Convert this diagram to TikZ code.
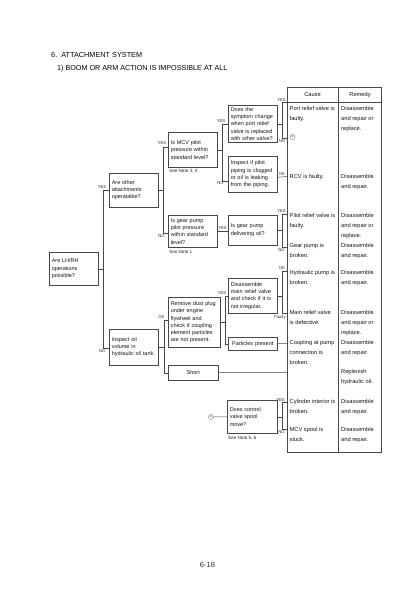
\documentclass[tikz,border=0pt]{standalone}
\usepackage{fontspec}
\setmainfont{Liberation Sans}
\begin{document}
\begin{tikzpicture}[x=1pt,y=-1pt,
  ln/.style={draw=black!72, line width=0.5pt},
  box/.style={draw=black!72, line width=0.5pt, anchor=north west, align=left,
    inner xsep=2.5pt, inner ysep=0pt, text width=44pt,
    font=\fontsize{5.5}{7.3}\selectfont, text=black!92},
  lbl/.style={inner sep=0.4pt, font=\fontsize{4.2}{4.2}\selectfont, text=black!85},
  note/.style={anchor=north west, inner sep=0pt, font=\fontsize{4.6}{5}\selectfont, text=black!85},
  cell/.style={anchor=north west, inner sep=0pt, align=left,
    font=\fontsize{5.7}{9.8}\selectfont, text=black!92},
  circ/.style={circle, draw=black!55, line width=0.4pt, inner sep=0pt, minimum size=5pt,
    font=\fontsize{3.6}{3.6}\selectfont, text=black!60}
]
\useasboundingbox (0,0) rectangle (416,589);

% titles
\node[anchor=base west, inner sep=0pt, font=\fontsize{7.3}{8}\selectfont] (t1) at (51,57.3) {6.\ \ ATTACHMENT SYSTEM};
\node[anchor=base west, inner sep=0pt, font=\fontsize{7.2}{8}\selectfont] (t2) at (57,70.7) {1) BOOM OR ARM ACTION IS IMPOSSIBLE AT ALL};

% table
\draw[ln] (287,87) rectangle (381,452);
\draw[ln] (287,102) -- (381,102);
\draw[ln] (338.5,87) -- (338.5,452);
\node[inner sep=0pt, font=\fontsize{5.7}{6}\selectfont, text=black!92] (hc) at (312.5,95) {Cause};
\node[inner sep=0pt, font=\fontsize{5.7}{6}\selectfont, text=black!92] (hr) at (360,95) {Remedy};

% table cells (cause / remedy)
\node[cell] (c1) at (289.5,106.5) {Port relief valve is\\faulty.};
\node[cell] (m1) at (341,106.5) {Disassemble\\and repair or\\replace.};
\node[circ] (ca1) at (292.5,137) {a};
\node[cell] (c2) at (289.5,174.5) {RCV is faulty.};
\node[cell] (m2) at (341,174.5) {Disassemble\\and repair.};
\node[cell] (c3) at (289.5,213.5) {Pilot relief valve is\\faulty.};
\node[cell] (m3) at (341,213.5) {Disassemble\\and repair or\\replace.};
\node[cell] (c4) at (289.5,243.5) {Gear pump is\\broken.};
\node[cell] (m4) at (341,243.5) {Disassemble\\and repair.};
\node[cell] (c5) at (289.5,270.5) {Hydraulic pump is\\broken.};
\node[cell] (m5) at (341,270.5) {Disassemble\\and repair.};
\node[cell] (c6) at (289.5,310.5) {Main relief valve\\is defective.};
\node[cell] (m6) at (341,310.5) {Disassemble\\and repair or\\replace.};
\node[cell] (c7) at (289.5,340.5) {Coupling at pump\\connection is\\broken.};
\node[cell] (m7) at (341,340.5) {Disassemble\\and repair.};
\node[cell] (m8) at (341,369.5) {Replenish\\hydraulic oil.};
\node[cell] (c9) at (289.5,399.5) {Cylinder interior is\\broken.};
\node[cell] (m9) at (341,399.5) {Disassemble\\and repair.};
\node[cell] (c10) at (289.5,427.5) {MCV spool is\\stuck.};
\node[cell] (m10) at (341,427.5) {Disassemble\\and repair.};

% row entry points on the table's left edge
\coordinate (r1) at (287,102.5);
\coordinate (ra) at (287,138.5);
\coordinate (r2) at (287,176.5);
\coordinate (r3) at (287,214);
\coordinate (r4) at (287,247.5);
\coordinate (r5) at (287,271);
\coordinate (r6) at (287,313);
\coordinate (r7) at (287,343.5);
\coordinate (r8) at (287,372.5);
\coordinate (r9) at (287,402.5);
\coordinate (r10) at (287,429.5);

% boxes
\node[box, minimum height=33pt] (A) at (49,252) {Are LH/RH\\operations\\possible?};
\node[box, minimum height=34pt] (B) at (109,173) {Are other\\attachments\\operatable?};
\node[box, minimum height=36pt] (C) at (109,329) {Inspect oil\\volume in\\hydraulic oil tank.};
\node[box, minimum height=35pt] (D) at (168,132) {Is MCV pilot\\pressure within\\standard level?};
\node[box, minimum height=32pt] (E) at (168,215) {Is gear pump\\pilot pressure\\within standard\\level?};
\node[box, minimum height=37pt] (K) at (228,105) {Does the\\symptom change\\when port relief\\valve is replaced\\with other valve?};
\node[box, minimum height=36pt] (L) at (228,156) {Inspect if pilot\\piping is clogged\\or oil is leaking\\from the piping.};
\node[box, minimum height=30pt] (F) at (228,215) {Is gear pump\\delivering oil?};
\node[box, minimum height=35pt] (G) at (228,278) {Disassemble\\main relief valve\\and check if it is\\not irregular.};
\node[box, minimum height=50pt, text width=47pt] (H) at (168,297) {Remove dust plug\\under engine\\flywheel and\\check if coupling\\element particles\\are not present.};
\node[box, minimum height=13pt, align=center] (I) at (228,337) {Particles present};
\node[box, minimum height=15pt, text width=45pt, align=center] (S) at (168,365) {Short};
\node[box, minimum height=33pt, text width=45pt] (J) at (227,400) {Does control\\valve spool\\move?};

% notes
\node[note] (n1) at (169,169.5) {See Note 3, 4};
\node[note] (n2) at (169,250) {See Note 1};
\node[note] (n3) at (228,436) {See Note 5, 6};

% connectors: A
\draw[ln] (A.east) -- ++(5,0) coordinate (av);
\draw[ln] (av) |- (B.west);
\draw[ln] (av) |- ([yshift=-1pt]C.west);
\node[lbl, anchor=south] (la1) at (102,189.5) {YES};
\node[lbl, anchor=north] (la2) at (102,348.5) {NO};

% B
\draw[ln] (B.east) -- ++(5,0) coordinate (bv);
\draw[ln] (bv) |- ([yshift=3pt]D.west);
\draw[ln] (bv) |- ([yshift=-2pt]E.west);
\node[lbl, anchor=south] (lb1) at (162,145.5) {YES};
\node[lbl, anchor=north] (lb2) at (161.5,233.5) {NO};

% D
\draw[ln] (D.east) -- ++(5,0) coordinate (dv);
\draw[ln] (dv) |- (K.west);
\draw[ln] (dv) |- ([yshift=-6.5pt]L.west);
\node[lbl, anchor=south] (ld1) at (221,123) {YES};
\node[lbl, anchor=north] (ld2) at (220.5,180.5) {NO};

% K
\draw[ln] (K.east) -- ++(5,0) coordinate (kv);
\draw[ln] (kv) |- (r1);
\draw[ln] (kv) |- (ra);
\node[lbl, anchor=south] (lk1) at (281.5,102) {YES};
\node[lbl, anchor=north] (lk2) at (282,139) {NO};

% L
\draw[ln] ([yshift=-3pt]L.east) -- (r2);
\node[lbl, anchor=south] (ll1) at (282,176) {OK};

% E -> F
\draw[ln] (E.east) -- (E.east -| F.west);
\node[lbl, anchor=south] (le1) at (222.5,230.5) {YES};

% F
\draw[ln] (F.east) -- ++(5,0) coordinate (fv);
\draw[ln] (fv) |- (r3);
\draw[ln] (fv) |- (r4);
\node[lbl, anchor=south] (lf1) at (281.5,213.5) {YES};
\node[lbl, anchor=north] (lf2) at (281.5,248) {NO};

% C
\draw[ln] (C.east) -- ++(6,0) coordinate (cv);
\draw[ln] (cv) |- ([yshift=2pt]H.west);
\draw[ln] (cv) |- (S.west);
\node[lbl, anchor=south] (lc1) at (161.5,319.5) {OK};

% H
\draw[ln] (H.east) -- ++(5,0) coordinate (hv);
\draw[ln] (hv) |- (G.west);
\draw[ln] (hv) |- (I.west);
\node[lbl, anchor=south] (lh1) at (222,295) {YES};

% G
\draw[ln] (G.east) -- ++(5,0) coordinate (gv);
\draw[ln] (gv) |- (r5);
\draw[ln] (gv) |- (r6);
\node[lbl, anchor=south] (lg1) at (282,270.5) {OK};
\node[lbl, anchor=north] (lg2) at (280,314.5) {Faulty};

% I, Short
\draw[ln] (I.east) -- (r7);
\draw[ln] (S.east) -- (r8);

% J
\node[circ] (ca2) at (211,417) {a};
\draw[ln] (ca2) -- (J.west);
\draw[ln] (J.east) -- ++(5,0) coordinate (jv);
\draw[ln] (jv) |- (r9);
\draw[ln] (jv) |- (r10);
\node[lbl, anchor=south] (lj1) at (280.5,402) {YES};
\node[lbl, anchor=north] (lj2) at (281.5,430) {NO};

% page number
\node[inner sep=0pt, font=\fontsize{7.5}{8}\selectfont, text=black!80] (pg) at (207.5,564.5) {6-18};
\end{tikzpicture}
\end{document}
